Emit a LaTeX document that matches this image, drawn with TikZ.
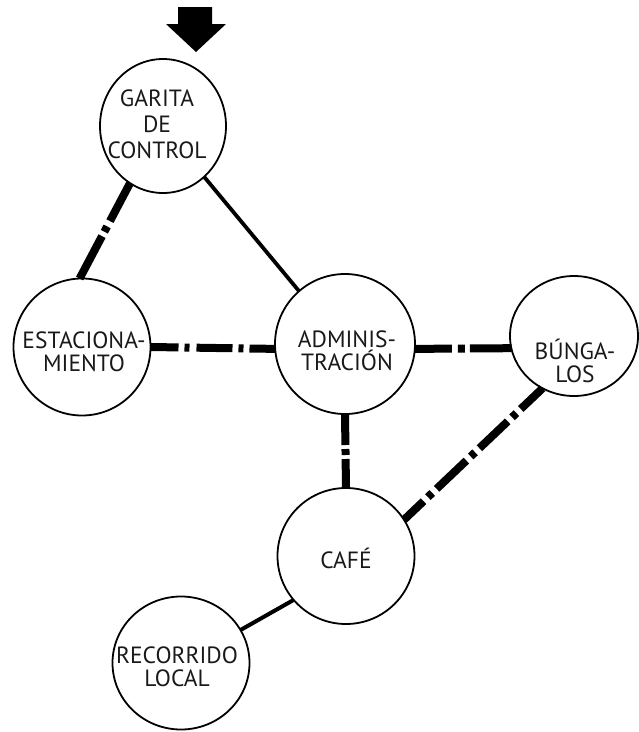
\documentclass[tikz,border=0pt]{standalone}
\usepackage{fontspec}
\setmainfont{PT Sans}
\usetikzlibrary{shapes.geometric}
\begin{document}
\begin{tikzpicture}[x=1pt,y=-1pt,
  room/.style={draw, ellipse, line width=1.8pt, inner sep=0pt, outer sep=0pt},
  lbl/.style={font=\fontsize{23.5}{23.5}\selectfont, align=center, text=black!90, inner sep=0pt},
  solidlink/.style={line width=3.8pt},
  dashlink/.style={line width=8pt},
]
\useasboundingbox (0,0) rectangle (639,732);

% rooms
\node[room, minimum width=126pt, minimum height=134pt] (garita) at (163,126) {};
\node[room, minimum width=137pt, minimum height=137pt] (estac) at (82,347) {};
\node[room, minimum width=140pt, minimum height=140pt] (admin) at (345,344) {};
\node[room, minimum width=128pt, minimum height=120pt] (bung) at (574,336) {};
\node[room, minimum width=137pt, minimum height=136pt] (cafe) at (346,556) {};
\node[room, minimum width=137pt, minimum height=133pt] (reco) at (181,663) {};

% labels
\node[lbl, font=\fontsize{23.5}{26}\selectfont] (garita-t) at (157,124) {GARITA\\DE\\CONTROL};
\node[lbl] (estac-t) at (84,352) {ESTACIONA-\\MIENTO};
\node[lbl] (admin-t) at (347,351) {ADMINIS-\\TRACIÓN};
\node[lbl] (bung-t) at (575,361) {BÚNGA-\\LOS};
\node[lbl] (cafe-t) at (346,558) {CAFÉ};
\node[lbl] (reco-t) at (177,667) {RECORRIDO\\LOCAL};

% entrance arrow
\fill (178,7) -- (212,7) -- (212,24) -- (226,24) -- (196,52) -- (166,24) -- (178,24) -- cycle;

% connectors
\draw[dashlink, dash pattern=on 43pt off 6pt on 6pt off 5pt on 60pt] (garita.-120) -- (estac.92);
\draw[solidlink] (garita.-51) -- (admin.131);
\draw[dashlink, dash pattern=on 28pt off 6pt on 5pt off 7pt on 36pt off 6pt on 5pt off 6pt on 40pt] (estac.0) -- (admin.184);
\draw[dashlink, dash pattern=on 37pt off 6pt on 7pt off 5pt on 60pt] (admin.-4) -- (bung.191);
\draw[dashlink, dash pattern=on 31pt off 4pt on 6pt off 4pt on 40pt] (admin.-90) -- (cafe.90);
\draw[dashlink, dash pattern=on 27pt off 6pt on 6pt off 6pt on 41pt off 6pt on 6pt off 6pt on 39pt off 6pt on 6pt off 6pt on 40pt] (cafe.32) -- (bung.-121);
\draw[solidlink, line width=4pt] (cafe.220) -- (reco.29);
\end{tikzpicture}
\end{document}
